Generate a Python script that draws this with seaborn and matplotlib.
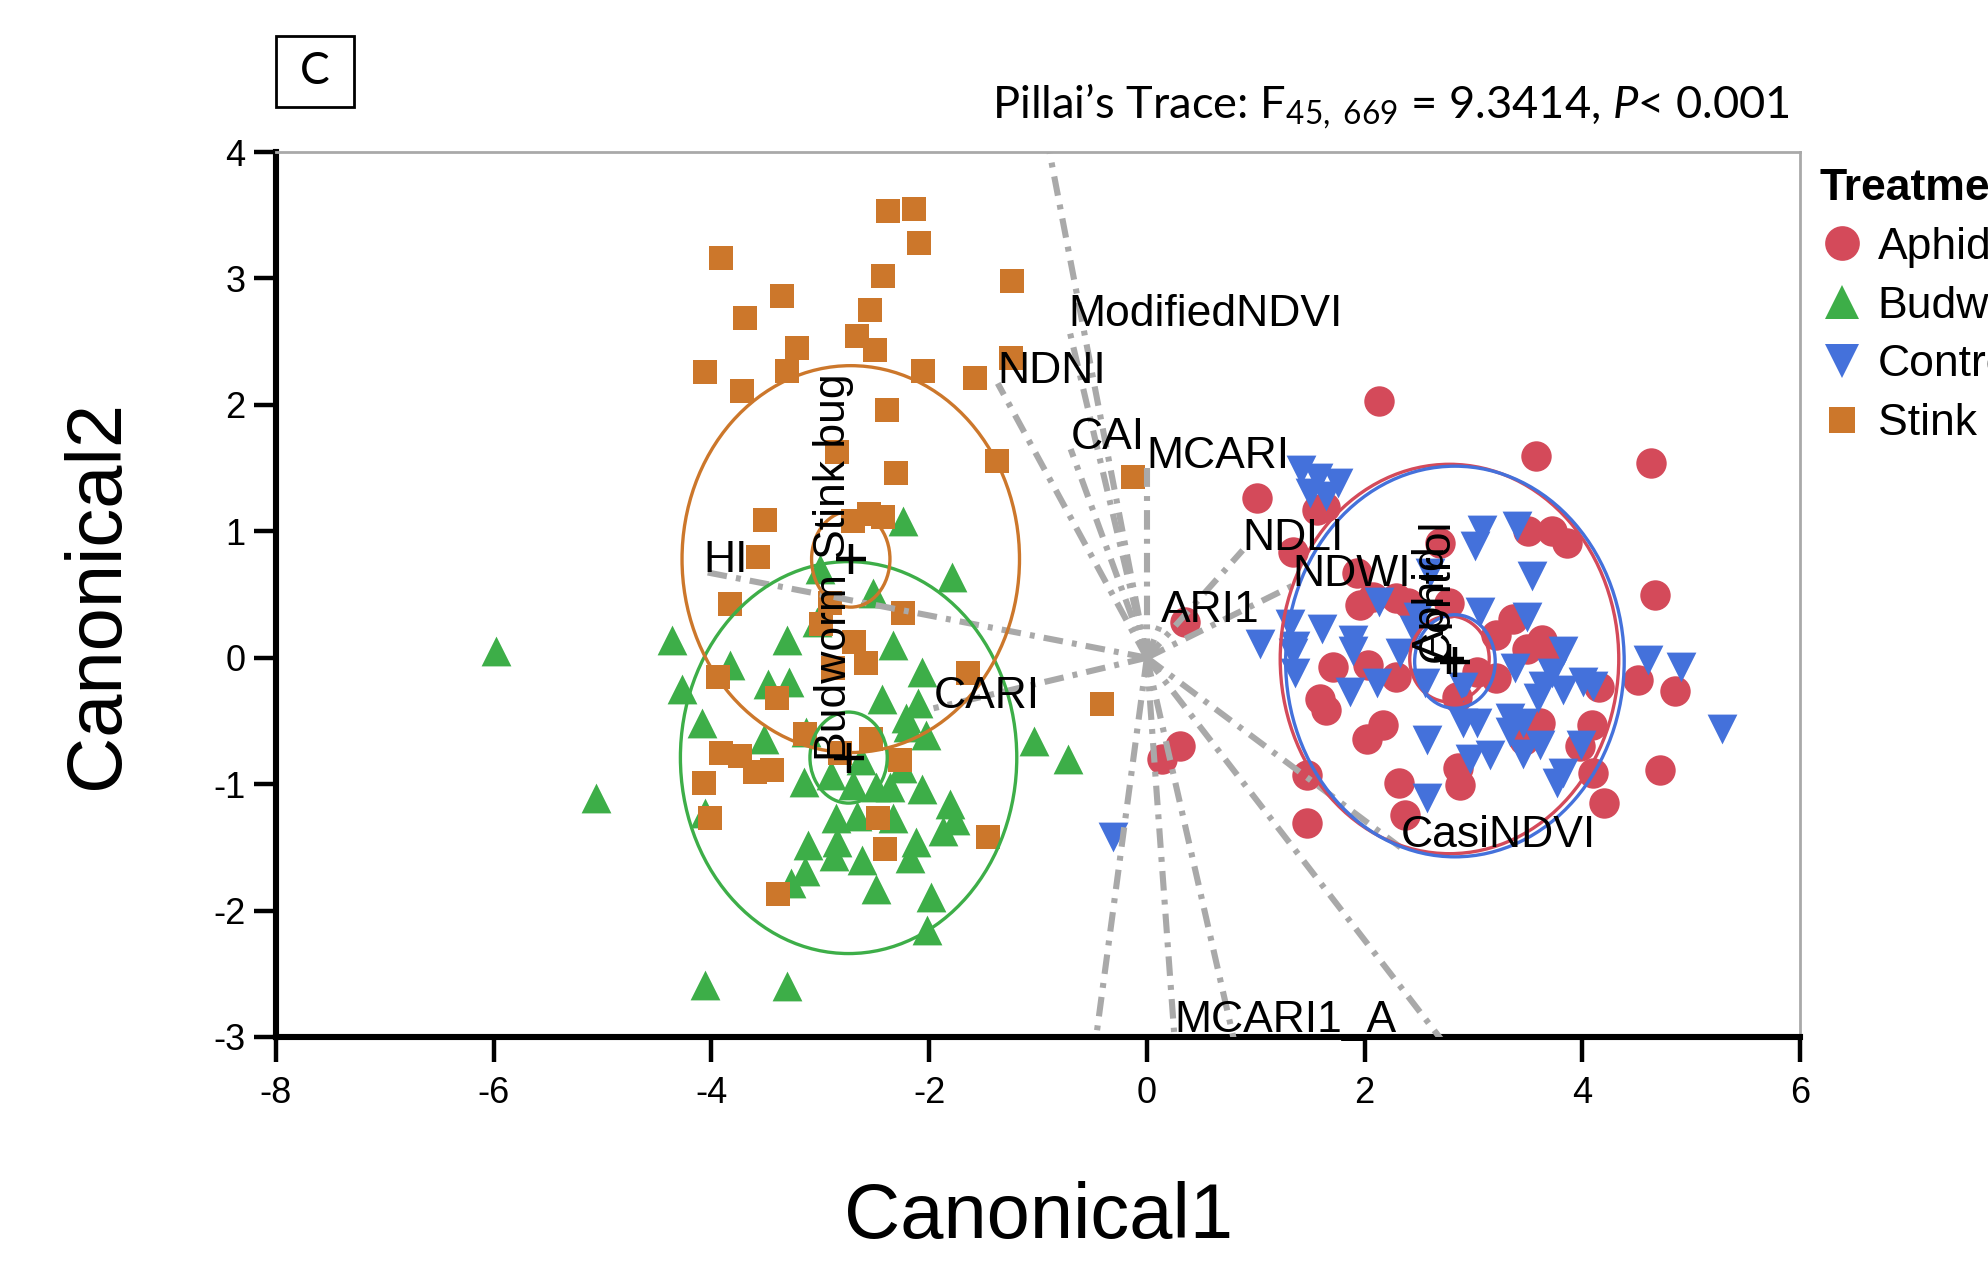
import numpy as np
import pandas as pd
import matplotlib
matplotlib.use("Agg")
import matplotlib.pyplot as plt
from matplotlib.patches import Ellipse, Rectangle
from matplotlib.lines import Line2D
from matplotlib import font_manager
import seaborn as sns

# ---------------- data ----------------
treatments = ["Aphid", "Budworm", "Control", "Stink bug"]

aphid_x = [2.135, 3.574, 4.628, 1.009, 1.56, 1.636, 1.345, 2.69, 3.50, 3.72, 3.856, 4.668, 1.93, 1.96,
           2.08, 2.29, 2.40, 2.78, 3.21, 3.366, 3.49, 3.627, 3.72, 1.71, 2.03, 2.29, 3.03, 3.21, 2.85,
           4.15, 4.51, 4.85, 1.59, 1.65, 2.17, 2.02, 3.61, 4.086, 3.98, 4.71, 3.46, 2.86, 2.876, 2.32,
           4.10, 4.20, 1.47, 1.47, 2.37, 0.35, 0.30, 0.136]
aphid_y = [2.03, 1.596, 1.54, 1.26, 1.17, 1.195, 0.84, 0.905, 1.00, 1.00, 0.905, 0.50, 0.67, 0.417,
           0.48, 0.47, 0.43, 0.43, 0.18, 0.31, 0.07, 0.14, 0.035, -0.07, -0.06, -0.15, -0.11, -0.16, -0.31,
           -0.23, -0.18, -0.26, -0.33, -0.41, -0.53, -0.64, -0.52, -0.53, -0.70, -0.89, -0.65, -0.875, -1.007, -0.99,
           -0.915, -1.15, -0.93, -1.305, -1.245, 0.285, -0.70, -0.80]

budworm_x = [-5.976, -4.36, -4.27, -3.83, -4.09, -5.06, -3.52, -3.48, -3.29, -3.31, -3.00, -2.24, -1.79,
             -2.52, -2.33, -3.03, -2.07, -2.43, -2.105, -2.21, -2.03, -2.19, -1.04, -0.72, -3.13, -3.15,
             -2.906, -2.70, -2.63, -2.49, -2.36, -2.25, -2.07, -2.86, -2.66, -2.33, -1.81, -1.76, -1.87,
             -3.11, -2.85, -2.87, -2.62, -2.12, -2.18, -3.14, -3.27, -2.49, -1.98, -2.02, -4.06, -3.31, -4.06]
budworm_y = [0.05, 0.14, -0.25, -0.055, -0.52, -1.11, -0.645, -0.21, -0.19, 0.14, 0.70, 1.08, 0.64,
             0.51, 0.10, 0.28, -0.115, -0.33, -0.36, -0.48, -0.615, -0.55, -0.66, -0.80, -0.59, -0.98,
             -0.93, -1.01, -0.81, -1.02, -1.02, -0.87, -1.04, -1.27, -1.25, -1.27, -1.16, -1.28, -1.37,
             -1.48, -1.46, -1.57, -1.60, -1.46, -1.585, -1.69, -1.78, -1.83, -1.89, -2.15, -2.585, -2.60, -1.23]

control_x = [1.42, 1.575, 1.76, 1.50, 1.65, 3.075, 3.01, 3.40, 3.535, 2.60, 2.13, 2.49, 3.06, 3.49, 1.315,
             1.605, 1.896, 1.896, 1.04, 1.36, 1.345, 2.325, 2.45, 3.825, 4.606, 4.91, 1.36, 1.866, 2.11,
             2.555, 2.906, 3.38, 3.64, 3.72, 3.825, 4.01, 4.10, 3.596, 2.906, 3.03, 3.336, 3.336, 3.458,
             2.57, 3.61, 3.99, 2.97, 3.15, 3.458, 3.825, 3.765, 2.57, 5.28, -0.31]
control_y = [1.485, 1.42, 1.38, 1.30, 1.28, 1.01, 0.88, 1.04, 0.65, 0.67, 0.44, 0.32, 0.36, 0.32, 0.27,
             0.23, 0.14, 0.05, 0.11, 0.09, 0.035, 0.035, 0.22, 0.05, -0.02, -0.07, -0.12, -0.27, -0.20,
             -0.20, -0.23, -0.08, -0.22, -0.12, -0.255, -0.19, -0.22, -0.32, -0.52, -0.52, -0.48, -0.585, -0.52,
             -0.65, -0.69, -0.69, -0.80, -0.77, -0.76, -0.915, -0.99, -1.11, -0.56, -1.416]

stink_x = [-2.376, -2.137, -2.09, -3.91, -2.42, -1.236, -3.35, -3.69, -2.54, -2.66, -3.21, -2.50, -4.06,
           -3.72, -3.31, -2.06, -1.576, -1.25, -2.39, -1.38, -2.30, -2.85, -3.505, -2.55, -2.42, -2.70,
           -3.57, -3.83, -2.24, -2.91, -2.99, -2.69, -2.58, -1.64, -3.94, -0.13, -2.88, -3.40, -0.41,
           -3.14, -2.53, -2.82, -2.27, -3.91, -3.74, -3.60, -3.44, -4.07, -4.01, -2.47, -2.41, -1.46, -3.385]
stink_y = [3.536, 3.55, 3.28, 3.16, 3.02, 2.98, 2.86, 2.69, 2.75, 2.545, 2.45, 2.43, 2.26,
           2.11, 2.27, 2.27, 2.21, 2.37, 1.96, 1.556, 1.46, 1.63, 1.09, 1.14, 1.11, 1.08,
           0.80, 0.425, 0.35, 0.43, 0.27, 0.127, -0.04, -0.12, -0.15, 1.43, -0.085, -0.32, -0.37,
           -0.60, -0.645, -0.75, -0.81, -0.75, -0.78, -0.90, -0.89, -0.99, -1.27, -1.27, -1.51, -1.42, -1.87]

# group means (+) and ellipse sizes (full width / height, data units)
center_x = [2.78, -2.74, 2.83, -2.72]
center_y = [-0.01, -0.79, -0.03, 0.78]
big_w = [3.11, 3.09, 3.11, 3.10]
big_h = [3.08, 3.10, 3.09, 3.06]
small_w = [0.73, 0.71, 0.74, 0.72]
small_h = [0.68, 0.72, 0.74, 0.76]

# biplot rays (end points) and their labels ('' = label outside the frame)
ray_names = ["", "ModifiedNDVI", "NDNI", "CAI", "MCARI", "NDLI", "NDWI", "ARI1", "HI", "CARI",
             "CasiNDVI", "", "MCARI1_A", "", ""]
ray_x = [-0.95, -0.72, -1.37, -0.70, 0.0, 0.88, 1.34, 0.13, -4.07, -1.96, 2.33, 3.00, 0.25, 0.90, -0.52]
ray_y = [4.25, 2.62, 2.17, 1.65, 1.50, 0.85, 0.57, 0.28, 0.68, -0.40, -1.50, -3.35, -2.96, -3.40, -3.35]

x_ticks = [-8, -6, -4, -2, 0, 2, 4, 6]
y_ticks = [-3, -2, -1, 0, 1, 2, 3, 4]

# ---------------- style ----------------
colors = {"Aphid": "#D44A5A", "Budworm": "#3DAE48", "Control": "#4471DB", "Stink bug": "#CC772B"}
markers = {"Aphid": "o", "Budworm": "^", "Control": "v", "Stink bug": "s"}
msizes = {"Aphid": 120, "Budworm": 115, "Control": 115, "Stink bug": 72}

df = pd.concat([
    pd.DataFrame({"Canonical1": aphid_x, "Canonical2": aphid_y, "Treatment": "Aphid"}),
    pd.DataFrame({"Canonical1": budworm_x, "Canonical2": budworm_y, "Treatment": "Budworm"}),
    pd.DataFrame({"Canonical1": control_x, "Canonical2": control_y, "Treatment": "Control"}),
    pd.DataFrame({"Canonical1": stink_x, "Canonical2": stink_y, "Treatment": "Stink bug"}),
], ignore_index=True)

sns.set_theme(style="white")
avail = {f.name for f in font_manager.fontManager.ttflist}
def pick(*names):
    for n in names:
        if n in avail:
            return n
    return "DejaVu Sans"
SANS = pick("Liberation Sans", "Arial", "DejaVu Sans")
NARROW = pick("Liberation Sans Narrow", "Liberation Sans")
CAL = pick("Lato", "Open Sans", "Liberation Sans")
plt.rcParams["font.family"] = [SANS, "DejaVu Sans"]
plt.rcParams["mathtext.fontset"] = "custom"
plt.rcParams["mathtext.rm"] = CAL
plt.rcParams["mathtext.it"] = CAL + ":italic"
for k in ["text.color", "axes.labelcolor", "xtick.color", "ytick.color"]:
    plt.rcParams[k] = "black"

fig = plt.figure(figsize=(1988 / 200, 1261 / 200), dpi=200)
ax = fig.add_axes([276 / 1988, 1 - 1037 / 1261, 1524 / 1988, 885 / 1261])

for t in treatments:
    sub = df[df["Treatment"] == t]
    sns.scatterplot(data=sub, x="Canonical1", y="Canonical2", color=colors[t], marker=markers[t],
                    s=msizes[t], linewidth=0, ax=ax, zorder=2, legend=False)

# rays
for nm, ex, ey in zip(ray_names, ray_x, ray_y):
    ax.plot([0, ex], [0, ey], color="#A9A9A9", lw=2.2, linestyle=(0, (3.2, 1.5, 0.8, 1.5)),
            zorder=3, solid_capstyle="butt", dash_capstyle="butt")
    if nm:
        ax.text(ex, ey, nm, fontsize=16, ha="left", va="baseline", color="black", zorder=6)

# ellipses, means, group labels
for i, t in enumerate(treatments):
    ax.add_patch(Ellipse((center_x[i], center_y[i]), big_w[i], big_h[i], fill=False,
                         ec=colors[t], lw=1.2, zorder=4))
    ax.add_patch(Ellipse((center_x[i], center_y[i]), small_w[i], small_h[i], fill=False,
                         ec=colors[t], lw=1.2, zorder=4))
    ax.plot(center_x[i], center_y[i], marker="+", ms=11, mew=1.6, color="black", zorder=5)
    ax.text(center_x[i] + 0.03, center_y[i], t, rotation=90, fontsize=16, ha="right",
            va="bottom", color="black", zorder=6)

ax.set_xlim(-8, 6)
ax.set_ylim(-3, 4)
ax.set_xticks(x_ticks)
ax.set_yticks(y_ticks)
ax.set_xticklabels([str(v) for v in x_ticks], fontsize=13)
ax.set_yticklabels([str(v) for v in y_ticks], fontsize=13)
ax.tick_params(axis="x", direction="out", length=9, width=1.6, pad=5, color="black", bottom=True)
ax.tick_params(axis="y", direction="out", length=8, width=1.6, pad=3, color="black", left=True)

for s in ["left", "bottom"]:
    ax.spines[s].set_color("black")
    ax.spines[s].set_linewidth(2.2)
for s in ["top", "right"]:
    ax.spines[s].set_color("#A9A9A9")
    ax.spines[s].set_linewidth(1.0)
    ax.spines[s].set_visible(True)

ax.set_xlabel("Canonical1", fontsize=28, family=[NARROW, "DejaVu Sans"])
ax.set_ylabel("Canonical2", fontsize=28, family=[NARROW, "DejaVu Sans"])
ax.xaxis.set_label_coords(0.5, -0.163)
ax.yaxis.set_label_coords(-0.093, 0.5)

# title text
fig.text(1790 / 1988, 1 - 118 / 1261,
         "Pillai\u2019s Trace: F$_{45,\\ 669}$ = 9.3414, $\\mathit{P}$< 0.001",
         ha="right", va="baseline", fontsize=16.3, family=[CAL, "DejaVu Sans"])

# panel letter box
fig.patches.append(Rectangle((276 / 1988, 1 - 107 / 1261), 78 / 1988, 71 / 1261, transform=fig.transFigure,
                             fill=False, ec="black", lw=1.0))
fig.text(315 / 1988, 1 - 71.5 / 1261, "C", ha="center", va="center", fontsize=16,
         family=[CAL, "DejaVu Sans"])

# legend
handles = [Line2D([], [], ls="", marker=markers[t], color=colors[t], markersize=(msizes[t] * 1.3) ** 0.5,
                  mew=0) for t in treatments]
leg = fig.legend(handles, treatments, title="Treatment", loc="upper left",
                 bbox_to_anchor=(1820 / 1988, 1 - 168 / 1261), frameon=False, fontsize=16,
                 title_fontproperties={"weight": "bold", "size": 16}, alignment="left",
                 handletextpad=0.3, labelspacing=0.4, borderpad=0, handlelength=1.0,
                 borderaxespad=0)

fig.savefig("out.png", dpi=200)
